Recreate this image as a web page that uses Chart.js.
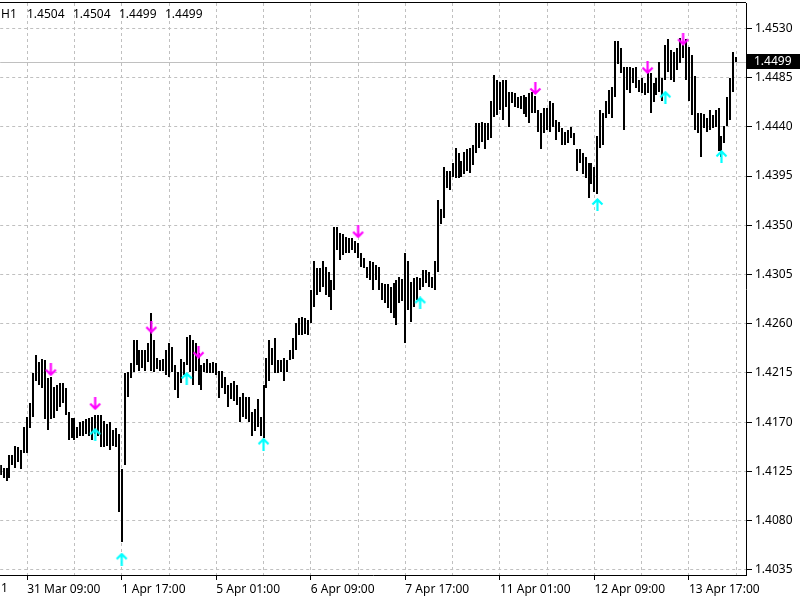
<!DOCTYPE html>
<html><head><meta charset="utf-8">
<script src="https://cdn.jsdelivr.net/npm/chart.js@4"></script>
<style>html,body{margin:0;padding:0;background:#fff;}</style>
</head><body>
<canvas id="c" width="800" height="600"></canvas>
<script>
// ---- data (H1 bars: high / low per bar) ----
const hi = [
1.4131,1.4128,1.4128,1.4140,1.4140,1.4148,1.4147,1.4145,1.4166,1.4175,
1.4188,1.4215,1.4231,1.4225,1.4228,1.4227,1.4210,1.4211,1.4202,1.4204,
1.4206,1.4206,1.4201,1.4179,1.4174,1.4174,1.4166,1.4170,1.4171,1.4173,
1.4174,1.4175,1.4177,1.4177,1.4177,1.4171,1.4168,1.4170,1.4163,1.4165,
1.4159,1.4127,1.4215,1.4216,1.4224,1.4245,1.4245,1.4236,1.4236,1.4236,
1.4242,1.4270,1.4245,1.4229,1.4227,1.4228,1.4236,1.4242,1.4239,1.4222,
1.4216,1.4228,1.4225,1.4248,1.4250,1.4245,1.4242,1.4233,1.4222,1.4224,
1.4228,1.4224,1.4225,1.4224,1.4217,1.4217,1.4211,1.4204,1.4206,1.4208,
1.4204,1.4193,1.4197,1.4193,1.4193,1.4179,1.4182,1.4191,1.4175,1.4204,
1.4229,1.4245,1.4238,1.4247,1.4227,1.4227,1.4229,1.4227,1.4236,1.4247,
1.4261,1.4265,1.4266,1.4265,1.4263,1.4291,1.4317,1.4311,1.4311,1.4317,
1.4312,1.4307,1.4300,1.4348,1.4348,1.4343,1.4342,1.4339,1.4338,1.4338,
1.4336,1.4334,1.4325,1.4320,1.4312,1.4317,1.4316,1.4314,1.4312,1.4297,
1.4296,1.4296,1.4294,1.4297,1.4300,1.4303,1.4301,1.4325,1.4317,1.4298,
1.4302,1.4303,1.4302,1.4309,1.4309,1.4307,1.4303,1.4317,1.4373,1.4365,
1.4403,1.4400,1.4400,1.4407,1.4421,1.4416,1.4409,1.4417,1.4420,1.4421,
1.4423,1.4443,1.4443,1.4444,1.4443,1.4443,1.4464,1.4487,1.4483,1.4481,
1.4483,1.4483,1.4472,1.4472,1.4471,1.4467,1.4468,1.4469,1.4467,1.4471,
1.4472,1.4468,1.4455,1.4453,1.4457,1.4457,1.4464,1.4462,1.4446,1.4444,
1.4439,1.4435,1.4437,1.4440,1.4434,1.4420,1.4420,1.4416,1.4412,1.4407,
1.4407,1.4403,1.4432,1.4455,1.4453,1.4464,1.4474,1.4476,1.4518,1.4518,
1.4512,1.4495,1.4495,1.4495,1.4494,1.4495,1.4483,1.4485,1.4480,1.4489,
1.4489,1.4480,1.4485,1.4499,1.4485,1.4515,1.4520,1.4510,1.4508,1.4512,
1.4521,1.4515,1.4520,1.4513,1.4506,1.4486,1.4453,1.4453,1.4452,1.4448,
1.4455,1.4451,1.4455,1.4457,1.4432,1.4441,1.4467,1.4485,1.4508,1.4504
];
const lo = [
1.4122,1.4119,1.4116,1.4119,1.4131,1.4128,1.4134,1.4127,1.4142,1.4142,
1.4165,1.4175,1.4208,1.4204,1.4201,1.4173,1.4163,1.4173,1.4174,1.4180,
1.4184,1.4188,1.4177,1.4154,1.4156,1.4154,1.4156,1.4157,1.4157,1.4159,
1.4157,1.4154,1.4159,1.4157,1.4147,1.4147,1.4148,1.4145,1.4148,1.4147,
1.4088,1.4061,1.4131,1.4193,1.4210,1.4216,1.4222,1.4217,1.4220,1.4217,
1.4225,1.4217,1.4216,1.4219,1.4217,1.4217,1.4213,1.4211,1.4216,1.4199,
1.4192,1.4206,1.4213,1.4222,1.4216,1.4204,1.4217,1.4204,1.4199,1.4216,
1.4215,1.4215,1.4215,1.4213,1.4192,1.4201,1.4196,1.4184,1.4191,1.4189,
1.4186,1.4170,1.4175,1.4173,1.4170,1.4157,1.4162,1.4166,1.4157,1.4156,
1.4201,1.4208,1.4222,1.4215,1.4215,1.4216,1.4208,1.4216,1.4227,1.4228,
1.4236,1.4250,1.4250,1.4251,1.4250,1.4261,1.4275,1.4286,1.4289,1.4294,
1.4286,1.4284,1.4273,1.4291,1.4327,1.4318,1.4323,1.4325,1.4325,1.4327,
1.4325,1.4320,1.4312,1.4311,1.4302,1.4300,1.4291,1.4300,1.4291,1.4282,
1.4279,1.4274,1.4270,1.4265,1.4259,1.4279,1.4281,1.4242,1.4273,1.4262,
1.4275,1.4282,1.4291,1.4294,1.4297,1.4294,1.4293,1.4291,1.4307,1.4351,
1.4357,1.4384,1.4382,1.4394,1.4393,1.4393,1.4394,1.4397,1.4400,1.4398,
1.4405,1.4416,1.4421,1.4426,1.4420,1.4428,1.4430,1.4449,1.4451,1.4455,
1.4446,1.4458,1.4440,1.4462,1.4458,1.4457,1.4456,1.4452,1.4449,1.4443,
1.4453,1.4453,1.4435,1.4420,1.4434,1.4437,1.4435,1.4440,1.4428,1.4435,
1.4423,1.4423,1.4425,1.4430,1.4423,1.4400,1.4407,1.4397,1.4393,1.4375,
1.4388,1.4380,1.4379,1.4421,1.4423,1.4448,1.4452,1.4448,1.4467,1.4497,
1.4489,1.4437,1.4474,1.4471,1.4480,1.4475,1.4472,1.4471,1.4469,1.4471,
1.4453,1.4463,1.4469,1.4472,1.4464,1.4483,1.4490,1.4483,1.4481,1.4492,
1.4498,1.4503,1.4483,1.4464,1.4451,1.4437,1.4434,1.4412,1.4439,1.4435,
1.4437,1.4439,1.4440,1.4418,1.4412,1.4425,1.4441,1.4446,1.4472,1.4499
];
// signal arrows (bar index, price)
const downIdx   = [17, 32, 51, 67, 121, 181, 219, 231];
const downPrice = [1.4218, 1.4187, 1.4257, 1.4234, 1.4344, 1.4475, 1.4494, 1.4520];
const upIdx     = [32, 41, 63, 89, 142, 202, 225, 244];
const upPrice   = [1.4159, 1.4045, 1.4210, 1.4150, 1.4279, 1.4369, 1.4467, 1.4413];
// axes
const yTicks = [1.4035,1.4080,1.4125,1.4170,1.4215,1.4260,1.4305,1.4350,1.4395,1.4440,1.4485,1.4530];
const gridIdx = [9,25,41,57,73,89,105,121,137,153,169,185,201,217,233,249];
const labelIdx = [9,41,73,105,137,169,201,233];
const xLabels = ["31 Mar 09:00","1 Apr 17:00","5 Apr 01:00","6 Apr 09:00","7 Apr 17:00","11 Apr 01:00","12 Apr 09:00","13 Apr 17:00"];
const period = "H1";
const lastOHLC = [1.4504, 1.4504, 1.4499, 1.4499];
const bidPrice = 1.4499;

const FONT = '"Noto Sans", sans-serif';
const FSIZE = 12;

function makeArrow(color, down) {
  const c = document.createElement('canvas');
  c.width = 13; c.height = 13;
  const g = c.getContext('2d');
  g.strokeStyle = color; g.lineWidth = 2.2; g.lineCap = 'butt'; g.lineJoin = 'miter';
  g.beginPath();
  if (down) {
    g.moveTo(6.5, 0); g.lineTo(6.5, 11.5);
    g.moveTo(1.5, 6.5); g.lineTo(6.5, 11.5); g.lineTo(11.5, 6.5);
  } else {
    g.moveTo(6.5, 13); g.lineTo(6.5, 1.5);
    g.moveTo(1.5, 6.5); g.lineTo(6.5, 1.5); g.lineTo(11.5, 6.5);
  }
  g.stroke();
  return c;
}
const arrowDown = makeArrow('#FF00FF', true);
const arrowUp = makeArrow('#00FFFF', false);

const extras = {
  id: 'mt4extras',
  beforeDatasetsDraw(chart) {
    const {ctx, chartArea: a, scales: {y}} = chart;
    const py = Math.round(y.getPixelForValue(bidPrice)) + 0.5;
    ctx.save();
    ctx.strokeStyle = '#c0c0c0'; ctx.lineWidth = 1;
    ctx.beginPath(); ctx.moveTo(a.left, py); ctx.lineTo(a.right, py); ctx.stroke();
    ctx.restore();
    chart.getDatasetMeta(2).data.forEach(el => {
      el.x = Math.round(el.x); el.y = Math.round(el.y); el.base = Math.round(el.base);
    });
  },
  afterDraw(chart) {
    const {ctx, chartArea: a, scales: {y}} = chart;
    ctx.save();
    // top frame line
    ctx.strokeStyle = '#000'; ctx.lineWidth = 1;
    ctx.beginPath(); ctx.moveTo(0, a.top - 0.5); ctx.lineTo(a.right, a.top - 0.5); ctx.stroke();
    // header
    ctx.font = FSIZE + 'px ' + FONT; ctx.fillStyle = '#000'; ctx.textBaseline = 'middle'; ctx.textAlign = 'left';
    ctx.fillText(period, 1, 15);
    lastOHLC.forEach((v, k) => ctx.fillText(v.toFixed(4), 27 + k * 46, 15));
    // cut-off time label at the left edge
    ctx.textBaseline = 'top';
    ctx.fillText('1', 1, a.bottom + 8);
    // bid label
    const py = Math.round(y.getPixelForValue(bidPrice));
    ctx.fillStyle = '#000';
    ctx.fillRect(a.right + 1, py - 8, 800 - a.right - 1, 15);
    ctx.fillStyle = '#fff'; ctx.textBaseline = 'middle';
    ctx.fillText(bidPrice.toFixed(4), a.right + 8, py - 0.5);
    ctx.restore();
  }
};

const bars = hi.map((h, i) => ({x: i, y: [lo[i], h]}));

new Chart(document.getElementById('c'), {
  type: 'bar',
  data: {
    datasets: [
      {type: 'scatter', label: 'sell', order: 0, data: downIdx.map((x, k) => ({x, y: downPrice[k]})),
       pointStyle: arrowDown, pointRadius: 0.2, pointHoverRadius: 0.2, pointBorderWidth: 0, borderWidth: 0},
      {type: 'scatter', label: 'buy', order: 0, data: upIdx.map((x, k) => ({x, y: upPrice[k]})),
       pointStyle: arrowUp, pointRadius: 0.2, pointHoverRadius: 0.2, pointBorderWidth: 0, borderWidth: 0},
      {type: 'bar', label: 'bars', order: 1, data: bars, backgroundColor: '#000', borderWidth: 0,
       barThickness: 2, inflateAmount: 0, grouped: false}
    ]
  },
  options: {
    responsive: false, animation: false, events: [],
    layout: {padding: {left: 0, right: 0, top: 3, bottom: 0}},
    plugins: {legend: {display: false}, tooltip: {enabled: false}},
    scales: {
      x: {
        type: 'linear', position: 'bottom', min: -0.135, max: 252.3, offset: false,
        afterBuildTicks: s => { s.ticks = gridIdx.map(v => ({value: v})); },
        afterFit: s => { s.height = 25; s.paddingLeft = 0; s.paddingRight = 0; },
        ticks: {
          autoSkip: false, maxRotation: 0, minRotation: 0, align: 'start', padding: 2,
          color: '#000', font: {family: FONT, size: FSIZE},
          callback: v => { const k = labelIdx.indexOf(v); return k >= 0 ? xLabels[k] : ''; }
        },
        grid: {
          offset: false, color: '#c0c0c0', lineWidth: 1, drawTicks: true, tickLength: 5,
          tickBorderDash: [1, 0], tickWidth: 1,
          tickColor: c => (c.tick && labelIdx.indexOf(c.tick.value) >= 0) ? '#000' : 'rgba(0,0,0,0)'
        },
        border: {display: true, color: '#000', width: 1, dash: [3, 3]}
      },
      y: {
        type: 'linear', position: 'right', min: 1.40304, max: 1.45531,
        afterBuildTicks: s => { s.ticks = yTicks.map(v => ({value: v})); },
        afterFit: s => { s.width = 54; s.paddingTop = 0; s.paddingBottom = 0; },
        ticks: {padding: 3, color: '#000', font: {family: FONT, size: FSIZE}, callback: v => v.toFixed(4)},
        grid: {color: '#c0c0c0', lineWidth: 1, drawTicks: true, tickLength: 6, tickColor: '#000',
               tickBorderDash: [1, 0], tickWidth: 1},
        border: {display: true, color: '#000', width: 1, dash: [3, 3]}
      }
    }
  },
  plugins: [extras]
});
</script>
</body></html>
